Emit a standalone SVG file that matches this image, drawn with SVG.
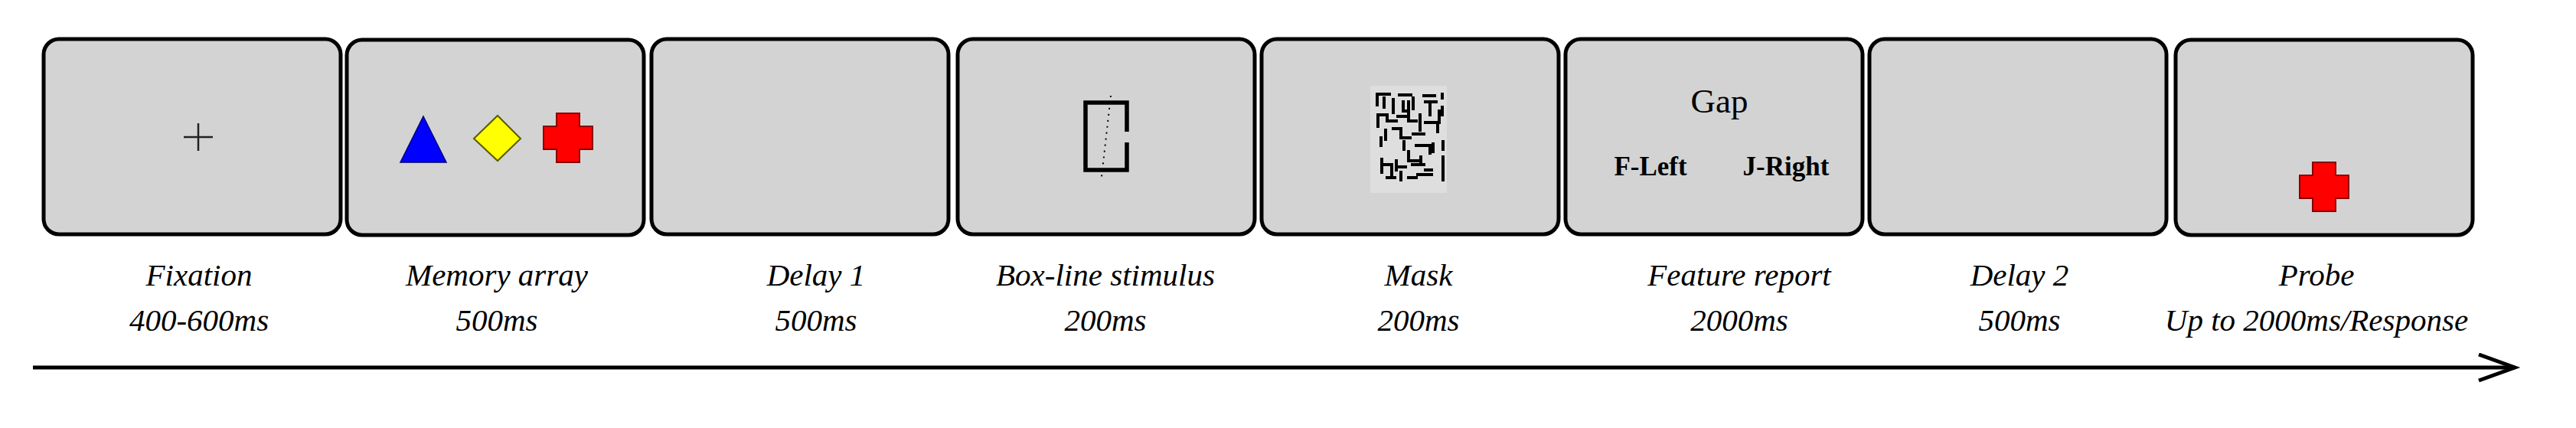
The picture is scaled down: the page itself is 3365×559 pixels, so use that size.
<svg xmlns="http://www.w3.org/2000/svg" width="3365" height="559" viewBox="0 0 3365 559">
<style>
.box{fill:#d3d3d3;stroke:#000;stroke-width:5}
.lbl{font-family:"Liberation Serif","Times New Roman",serif;font-style:italic;font-size:41px;fill:#000;text-anchor:middle}
.in{font-family:"Liberation Serif","Times New Roman",serif;fill:#000;text-anchor:middle}
.maze{fill:none;stroke:#000;stroke-width:4;stroke-linecap:square}
</style>
<defs>
<marker id="head" markerUnits="userSpaceOnUse" markerWidth="60" markerHeight="44" refX="49" refY="19" orient="auto">
<path d="M2,2 L49,19 L2,36" fill="none" stroke="#000" stroke-width="5"/>
</marker>
<path id="plus" d="M-15,-32 H15 V-15 H32 V15 H15 V32 H-15 V15 H-32 V-15 H-15 Z"/>
</defs>
<rect width="3365" height="559" fill="#fff"/>

<g id="node-fixation">
<rect class="box" x="57" y="51" width="388" height="255" rx="20"/>
<path d="M240,179 H278 M259,161 V197" stroke="#222" stroke-width="2.5" fill="none"/>
<text class="lbl" x="260" y="373">Fixation</text>
<text class="lbl" x="260" y="432">400-600ms</text>
</g>

<g id="node-memory">
<rect class="box" x="453" y="52" width="388" height="255" rx="20"/>
<polygon points="553,152 583,212 523,212" fill="#0000ff" stroke="#00007a" stroke-width="1.5"/>
<polygon points="650,151 680,181 650,210 619,181" fill="#ffff00" stroke="#5a5a00" stroke-width="2"/>
<use href="#plus" transform="translate(742,180)" fill="#ff0000" stroke="#8a0000" stroke-width="2"/>
<text class="lbl" x="649" y="373">Memory array</text>
<text class="lbl" x="649" y="432">500ms</text>
</g>

<g id="node-delay1">
<rect class="box" x="851" y="51" width="388" height="255" rx="20"/>
<text class="lbl" x="1066" y="373">Delay 1</text>
<text class="lbl" x="1066" y="432">500ms</text>
</g>

<g id="node-boxline">
<rect class="box" x="1251" y="51" width="388" height="255" rx="20"/>
<path d="M1472,172 V134 H1418 V222 H1472 V186" fill="none" stroke="#000" stroke-width="5.5"/>
<line x1="1451" y1="125" x2="1439" y2="231" stroke="#000" stroke-width="2" stroke-dasharray="2,6"/>
<text class="lbl" x="1444" y="373">Box-line stimulus</text>
<text class="lbl" x="1444" y="432">200ms</text>
</g>

<g id="node-mask">
<rect class="box" x="1648" y="51" width="388" height="255" rx="20"/>
<rect x="1790" y="112" width="100" height="140" fill="#dedede"/>
<path class="maze" d="M1799 123 H1815 M1828 124 H1843 M1860 125 H1874 M1884 123 V128 M1799 123 V137 M1808 128 V140 M1820 130 V147 M1833 133 V145 H1840 V133 M1862 133 H1876 M1868 133 V150 M1846 128 V142 M1800 150 H1812 V158 H1824 M1800 150 V165 M1826 152 H1838 M1840 145 V158 H1850 M1855 150 V170 M1862 160 H1878 V172 M1880 145 V160 M1884 140 V150 M1810 170 V182 M1804 180 V190 M1820 168 H1830 V180 H1842 M1846 175 H1860 M1834 185 V195 M1850 190 H1868 V200 M1872 188 V198 M1885 185 V195 M1840 198 V210 H1852 M1856 205 V212 M1805 208 V225 M1805 215 H1818 V228 M1824 210 V222 M1828 218 H1836 M1845 215 H1860 M1862 222 H1870 M1852 228 H1870 M1885 205 V222 M1812 232 H1822 M1840 232 H1850 M1830 225 V235 M1885 225 V235"/>
<text class="lbl" x="1853" y="373">Mask</text>
<text class="lbl" x="1853" y="432">200ms</text>
</g>

<g id="node-feature">
<rect class="box" x="2045" y="51" width="388" height="255" rx="20"/>
<text class="in" x="2246" y="147" font-size="45">Gap</text>
<text class="in" x="2156" y="229" font-size="35" font-weight="bold">F-Left</text>
<text class="in" x="2333" y="229" font-size="35" font-weight="bold">J-Right</text>
<text class="lbl" x="2272" y="373">Feature report</text>
<text class="lbl" x="2272" y="432">2000ms</text>
</g>

<g id="node-delay2">
<rect class="box" x="2442" y="51" width="388" height="255" rx="20"/>
<text class="lbl" x="2638" y="373">Delay 2</text>
<text class="lbl" x="2638" y="432">500ms</text>
</g>

<g id="node-probe">
<rect class="box" x="2842" y="52" width="388" height="255" rx="20"/>
<use href="#plus" transform="translate(3036,244)" fill="#ff0000" stroke="#8a0000" stroke-width="2"/>
<text class="lbl" x="3026" y="373">Probe</text>
<text class="lbl" x="3026" y="432">Up to 2000ms/Response</text>
</g>

<g id="connectors">
<line x1="43" y1="480" x2="3285" y2="480" stroke="#000" stroke-width="5" marker-end="url(#head)"/>
</g>
</svg>
